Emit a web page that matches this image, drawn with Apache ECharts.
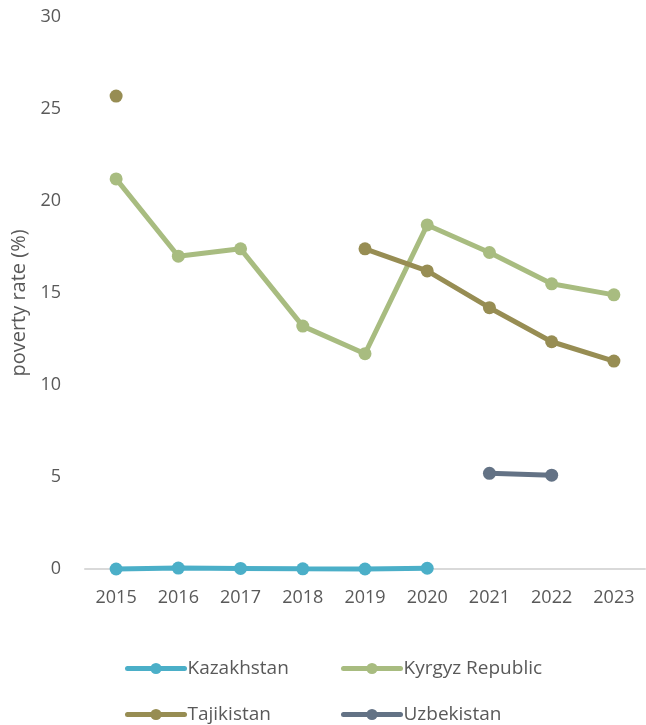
<!DOCTYPE html>
<html>
<head>
<meta charset="utf-8">
<script src="https://cdn.jsdelivr.net/npm/echarts@6/dist/echarts.min.js"></script>
<style>
html,body{margin:0;padding:0;background:#fff;}
#chart{width:646px;height:725px;}
</style>
</head>
<body>
<div id="chart"></div>
<script>
// years on the x axis
var years=['2015','2016','2017','2018','2019','2020','2021','2022','2023'];
// poverty rate (%) per country, null = no data
var kazakhstan=[0.0,0.05,0.03,0.01,0.0,0.04,null,null,null];
var kyrgyz=[21.2,17.0,17.4,13.2,11.7,18.7,17.2,15.5,14.9];
var tajikistan=[25.7,null,null,null,17.4,16.2,14.2,12.35,11.3];
var uzbekistan=[null,null,null,null,null,null,5.2,5.1,null];
var yTicks=[0,5,10,15,20,25,30];

var font='"Open Sans", sans-serif';
var textCol='#595959';

var chart=echarts.init(document.getElementById('chart'));

function makeSeries(name,data,color){
	return {
		name:name,
		type:'line',
		data:data,
		connectNulls:false,
		clip:false,
		symbol:'circle',
		symbolSize:13,
		showSymbol:true,
		itemStyle:{color:color},
		lineStyle:{color:color,width:5,opacity:1},
		emphasis:{disabled:true},
		animation:false
	};
}

function makeLegend(name,left,top){
	return {
		data:[name],
		left:left,
		top:top,
		itemWidth:57,
		itemHeight:14,
		itemGap:0,
		selectedMode:false,
		lineStyle:{width:5,cap:'round'},
		textStyle:{fontFamily:font,fontSize:19,color:textCol,padding:[0,0,0,-2]}
	};
}

var option={
	backgroundColor:'#fff',
	grid:{left:85,right:1,top:17,bottom:156},
	legend:[
		makeLegend('Kazakhstan',120,654),
		makeLegend('Kyrgyz Republic',336,654),
		makeLegend('Tajikistan',120,700),
		makeLegend('Uzbekistan',336,700)
	],
	xAxis:{
		type:'category',
		data:years,
		boundaryGap:true,
		axisLine:{show:true,lineStyle:{color:'#d9d9d9',width:2}},
		axisTick:{show:false},
		axisLabel:{fontFamily:font,fontSize:18,color:textCol,margin:20}
	},
	yAxis:{
		type:'value',
		min:yTicks[0],
		max:yTicks[yTicks.length-1],
		interval:5,
		name:'poverty rate (%)',
		nameLocation:'middle',
		nameGap:56,
		nameTextStyle:{fontFamily:font,fontSize:20,color:textCol,padding:[0,0,0,-20]},
		axisLine:{show:false},
		axisTick:{show:false},
		splitLine:{show:false},
		axisLabel:{fontFamily:font,fontSize:18,color:textCol,margin:24}
	},
	series:[
		makeSeries('Kazakhstan',kazakhstan,'#4BAFC8'),
		makeSeries('Kyrgyz Republic',kyrgyz,'#A8BC80'),
		makeSeries('Tajikistan',tajikistan,'#978D53'),
		makeSeries('Uzbekistan',uzbekistan,'#637285')
	]
};
chart.setOption(option);
</script>
</body>
</html>
